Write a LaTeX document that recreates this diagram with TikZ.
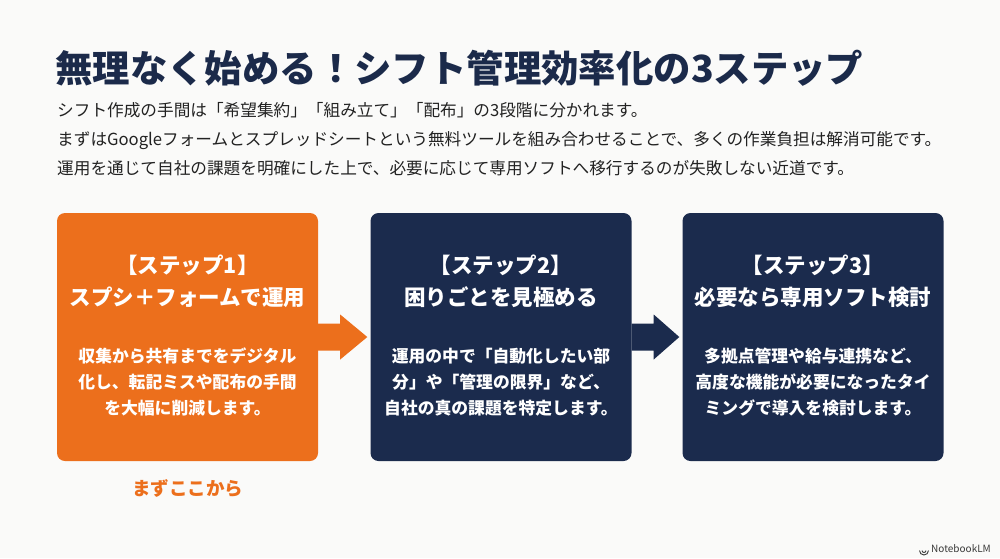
\documentclass[tikz,border=0pt]{standalone}
\usepackage{fontspec}
\setmainfont{Noto Sans CJK JP}
\usetikzlibrary{calc}
\definecolor{bg}{HTML}{FAFAF9}
\definecolor{orng}{HTML}{EC6F1C}
\definecolor{navy}{HTML}{1B2B4D}
\definecolor{ttl}{HTML}{1B2A4A}
\definecolor{txt}{HTML}{222222}
\definecolor{logo}{HTML}{3A3A3A}
\tikzset{
  stepbox/.style={rounded corners=8pt, minimum width=261pt, minimum height=248pt, inner sep=0pt},
  boxtitle/.style={text=white, align=center, inner sep=0pt, font=\fontsize{21.5pt}{32pt}\selectfont\bfseries},
  boxbody/.style={text=white, align=center, inner sep=0pt, font=\fontsize{16.8pt}{26pt}\selectfont\bfseries},
  para/.style={text=txt, anchor=base west, inner sep=0pt, font=\fontsize{16.65pt}{20pt}\selectfont},
}
\begin{document}
\begin{tikzpicture}[x=1pt,y=-1pt]
\path[fill=bg] (0,0) rectangle (1000,558);
\node[anchor=base west, inner sep=0pt, text=ttl, font=\fontsize{37.4pt}{40pt}\selectfont\bfseries] (title) at (55,82) {無理なく始める！シフト管理効率化の3ステップ};
\node[para] (p1) at (57,116) {シフト作成の手間は「希望集約」「組み立て」「配布」の3段階に分かれます。};
\node[para] (p2) at (57,145) {まずはGoogleフォームとスプレッドシートという無料ツールを組み合わせることで、多くの作業負担は解消可能です。};
\node[para] (p3) at (57,174) {運用を通じて自社の課題を明確にした上で、必要に応じて専用ソフトへ移行するのが失敗しない近道です。};

\node[stepbox, fill=orng] (b1) at (187.5,337) {};
\node[stepbox, fill=navy] (b2) at (501,337) {};
\node[stepbox, fill=navy] (b3) at (813,337) {};

\node[boxtitle] (t1) at ($(b1.center)+(0,-56)$) {【ステップ1】\\スプシ＋フォームで運用};
\node[boxbody] (d1) at ($(b1.center)+(0,45)$) {収集から共有までをデジタル\\化し、転記ミスや配布の手間\\を大幅に削減します。};
\node[boxtitle] (t2) at ($(b2.center)+(0,-56)$) {【ステップ2】\\困りごとを見極める};
\node[boxbody] (d2) at ($(b2.center)+(0,45)$) {運用の中で「自動化したい部\\分」や「管理の限界」など、\\自社の真の課題を特定します。};
\node[boxtitle] (t3) at ($(b3.center)+(0,-56)$) {【ステップ3】\\必要なら専用ソフト検討};
\node[boxbody] (d3) at ($(b3.center)+(0,45)$) {多拠点管理や給与連携など、\\高度な機能が必要になったタイ\\ミングで導入を検討します。};

\fill[orng] ($(b1.east)+(0,-13.5)$) -- ($(b1.east)+(22,-13.5)$) -- ($(b1.east)+(22,-22.5)$) -- ($(b2.west)+(-3,0)$) -- ($(b1.east)+(22,22.5)$) -- ($(b1.east)+(22,13.5)$) -- ($(b1.east)+(0,13.5)$) -- cycle;
\fill[navy] ($(b2.east)+(0,-13.5)$) -- ($(b2.east)+(22,-13.5)$) -- ($(b2.east)+(22,-22.5)$) -- ($(b3.west)+(-3,0)$) -- ($(b2.east)+(22,22.5)$) -- ($(b2.east)+(22,13.5)$) -- ($(b2.east)+(0,13.5)$) -- cycle;

\node[text=orng, inner sep=0pt, font=\fontsize{18.5pt}{22pt}\selectfont\bfseries] (start) at ($(b1.south)+(0,27)$) {まずここから};

\node[anchor=east, inner sep=0pt, text=logo, font=\fontsize{10pt}{12pt}\selectfont] (logo) at (991,549) {NotebookLM};
\coordinate (ic) at ($(logo.west)+(-7,1.5)$);
\draw[logo, line width=0.9pt] ($(ic)+(-4.5,0)$) arc[start angle=180, end angle=0, radius=4.5];
\draw[logo, line width=0.9pt] ($(ic)+(-2,0)$) arc[start angle=180, end angle=0, radius=2];
\end{tikzpicture}
\end{document}
